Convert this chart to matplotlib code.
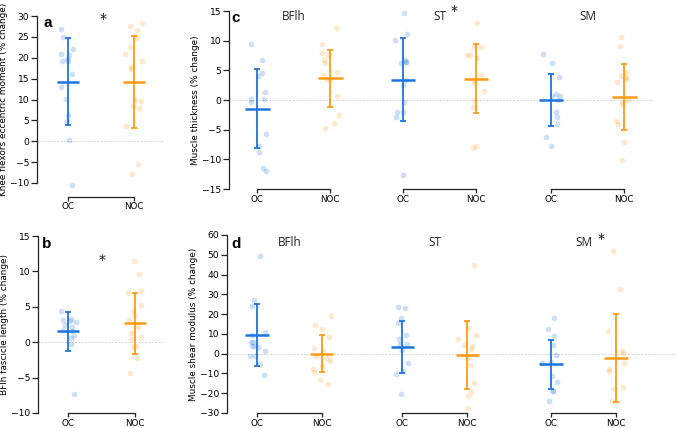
import numpy as np
import matplotlib
matplotlib.use('Agg')
import matplotlib.pyplot as plt

# ---------- data (% change) ---------- #
groups = ['OC', 'NOC']
muscles = ['BFlh', 'ST', 'SM']

# a : knee flexors eccentric moment
moment_oc = [26.9, 25.0, 22.2, 20.6, 20.8, 19.8, 19.3, 19.2, 16.2, 13.0, 10.1, 6.2, 4.9, 0.2, -10.4]
moment_noc = [28.4, 27.6, 26.6, 24.8, 22.5, 21.0, 19.2, 17.8, 17.4, 9.7, 10.0, 8.4, 8.0, 3.6, -5.5, -7.8]
moment_mean = [14.3, 14.2]
moment_sd = [10.35, 11.0]

# b : BFlh fascicle length
fascicle_oc = [4.4, 3.3, 2.9, 3.1, 3.0, 2.4, 2.2, 1.6, 1.7, 0.85, 0.6, -0.2, -7.3]
fascicle_noc = [11.5, 9.6, 7.2, 6.9, 5.3, 4.4, 3.8, 3.1, 2.2, 1.3, 0.7, 0.5, -0.6, -0.7, -2.3, -4.4]
fascicle_mean = [1.55, 2.65]
fascicle_sd = [2.75, 4.35]

# c : muscle thickness
thick_bflh_oc = [9.4, 6.8, 4.6, 4.0, 1.4, 0.2, 0.2, -0.3, -5.7, -7.7, -8.8, -11.9, -11.5]
thick_bflh_noc = [12.1, 9.5, 7.6, 7.9, 6.7, 6.3, 4.8, 4.2, 3.6, 3.4, 0.7, -2.5, -3.8, -4.7]
thick_st_oc = [14.6, 11.2, 10.1, 6.4, 6.2, 6.7, 6.4, 3.4, 2.6, -0.4, -2.0, -2.1, -2.9, -12.6]
thick_st_noc = [12.9, 9.0, 9.0, 7.6, 7.0, 7.6, 4.2, 3.4, 2.9, 1.6, 0.0, -1.2, -8.1, -7.7]
thick_sm_oc = [7.7, 6.3, 3.8, 0.7, 1.0, 0.6, 0.0, -2.1, -2.8, -4.0, -6.2, -7.7]
thick_sm_noc = [10.7, 9.1, 4.8, 4.0, 3.5, 3.8, 3.1, -0.3, -0.7, 0.0, -3.6, -4.0, -7.1, -10.1]
thick_mean = [[-1.45, 3.65], [3.4, 3.6], [0.0, 0.45]]
thick_sd = [[6.65, 4.75], [7.0, 5.8], [4.45, 5.55]]

# d : muscle shear modulus
shear_bflh_oc = [49.6, 27.3, 23.9, 10.8, 9.3, 5.7, 5.7, 4.0, 3.7, 3.2, 1.5, -1.0, -1.0, -5.1, -10.8]
shear_bflh_noc = [19.2, 14.5, 12.5, 8.4, 2.9, 1.2, -1.0, -2.2, -3.9, -6.1, -7.8, -9.4, -13.5, -15.3]
shear_st_oc = [23.6, 22.9, 17.9, 15.5, 9.4, 7.4, 5.1, 5.1, 2.0, -4.7, -8.9, -10.1, -20.2]
shear_st_noc = [45.0, 13.0, 9.6, 7.4, 4.6, 3.7, 2.4, -2.2, -5.6, -14.8, -19.6, -21.2, -27.5]
shear_sm_oc = [17.9, 12.6, 9.1, 4.6, -0.8, -4.4, -4.7, -11.1, -14.5, -19.1, -18.7, -23.8]
shear_sm_noc = [51.8, 32.9, 11.3, 1.2, 0.3, -4.7, -7.8, -8.6, -16.9, -17.7, -24.1]
shear_mean = [[9.3, 0.0], [3.2, -0.65], [-5.3, -2.25]]
shear_sd = [[15.7, 9.4], [13.2, 17.05], [12.4, 22.35]]

# ---------- style ---------- #
BLUE = '#1c74e0'
ORANGE = '#ff9a14'
SPINE = '#222222'
W, H = 676, 428

fig = plt.figure(figsize=(W / 100, H / 100), dpi=100)
rng = np.random.default_rng(3)


def axes_px(l, t, r, b):
    return fig.add_axes([l / W, 1 - b / H, (r - l) / W, (b - t) / H])


def style_axes(ax, ylim, yticks, show_y=True, xpos=(0, 1), offset=0):
    ax.set_ylim(*ylim)
    for s in ['top', 'right']:
        ax.spines[s].set_visible(False)
    ax.spines['bottom'].set_bounds(xpos[0], xpos[1])
    ax.spines['bottom'].set_position(('outward', offset))
    ax.set_xticks(list(xpos))
    ax.set_xticklabels(groups)
    ax.tick_params(axis='y', length=4, width=0.9, color=SPINE, labelsize=6.6, pad=1.5)
    ax.tick_params(axis='x', length=3, width=0.9, color=SPINE, labelsize=6.3, pad=1)
    ax.spines['bottom'].set_linewidth(0.9)
    ax.spines['bottom'].set_color(SPINE)
    if show_y:
        ax.set_yticks(yticks)
        ax.spines['left'].set_bounds(yticks[0], yticks[-1])
        ax.spines['left'].set_linewidth(0.9)
        ax.spines['left'].set_color(SPINE)
    else:
        ax.spines['left'].set_visible(False)
        ax.tick_params(axis='y', left=False, labelleft=False)
    ax.axhline(0, color='#c8c8c8', lw=0.6, ls=(0, (2, 2)), zorder=0)
    ax.patch.set_alpha(0)


def draw_pair(ax, oc, noc, means, sds, xpos=(0, 1)):
    for vals, x, m, sd, c in [(oc, xpos[0], means[0], sds[0], BLUE),
                              (noc, xpos[1], means[1], sds[1], ORANGE)]:
        xs = x + rng.uniform(-0.13, 0.13, len(vals))
        ax.scatter(xs, vals, s=17, color=c, alpha=0.22, lw=0, clip_on=False, zorder=2)
        ax.errorbar(x, m, yerr=sd, color=c, capsize=2.5, lw=1.3, capthick=1.3, zorder=3)
        ax.hlines(m, x - 0.17, x + 0.17, color=c, lw=1.8, zorder=3)


def panel_letter(x, y, s):
    fig.text(x / W, 1 - y / H, s, fontsize=11, fontweight='bold',
             family='Liberation Sans', va='baseline', ha='left')


def star(x, y, size=10):
    fig.text(x / W, 1 - y / H, '*', fontsize=size, ha='center', va='center', color='#111111')


# ---------- a ---------- #
ax_a = axes_px(37, 16, 163, 183)
ax_a.set_xlim(-0.47, 1.44)
style_axes(ax_a, (-10, 30), np.arange(-10, 31, 5), offset=10)
draw_pair(ax_a, moment_oc, moment_noc, moment_mean, moment_sd)
ax_a.set_ylabel('Knee flexors eccentric moment (% change)', fontsize=6.4, labelpad=1.5)
panel_letter(43, 27, 'a')
star(103, 19)

# ---------- b ---------- #
ax_b = axes_px(38, 236, 165, 413)
ax_b.set_xlim(-0.45, 1.45)
style_axes(ax_b, (-10, 15), np.arange(-10, 16, 5))
draw_pair(ax_b, fascicle_oc, fascicle_noc, fascicle_mean, fascicle_sd)
ax_b.set_ylabel('BFlh fascicle length (% change)', fontsize=6.4, labelpad=1.5)
panel_letter(42, 248, 'b')
star(102, 260)

# ---------- c ---------- #
c_bounds = [(229, 366, -0.384, 1.49), (366, 513, -0.507, 1.507), (513, 652, -0.52, 1.38)]
c_data = [(thick_bflh_oc, thick_bflh_noc), (thick_st_oc, thick_st_noc), (thick_sm_oc, thick_sm_noc)]
c_axes = []
for i, ((l, r, x0, x1), (oc, noc)) in enumerate(zip(c_bounds, c_data)):
    ax = axes_px(l, 11, r, 189)
    ax.set_xlim(x0, x1)
    style_axes(ax, (-15, 15), np.arange(-15, 16, 5), show_y=(i == 0))
    draw_pair(ax, oc, noc, thick_mean[i], thick_sd[i])
    c_axes.append(ax)
c_axes[0].set_ylabel('Muscle thickness (% change)', fontsize=6.4, labelpad=1.5)
panel_letter(231, 22, 'c')
for ax, name in zip(c_axes, muscles):
    ax.text(0.5, 14.1, name, fontsize=8.5, family='Open Sans', ha='center', va='center', color='#222222')
star(454, 11)

# ---------- d ---------- #
d_bounds = [(227, 364.5, -0.435, 1.56), (364.5, 511.5, -0.55, 1.58), (511.5, 676, -0.57, 1.81)]
d_data = [(shear_bflh_oc, shear_bflh_noc), (shear_st_oc, shear_st_noc), (shear_sm_oc, shear_sm_noc)]
d_axes = []
for i, ((l, r, x0, x1), (oc, noc)) in enumerate(zip(d_bounds, d_data)):
    ax = axes_px(l, 235, r, 413)
    ax.set_xlim(x0, x1)
    style_axes(ax, (-30, 60), np.arange(-30, 61, 10), show_y=(i == 0), xpos=(0, 0.94))
    draw_pair(ax, oc, noc, shear_mean[i], shear_sd[i], xpos=(0, 0.94))
    d_axes.append(ax)
d_axes[0].set_ylabel('Muscle shear modulus (% change)', fontsize=6.4, labelpad=1.5)
panel_letter(231, 248, 'd')
for ax, name in zip(d_axes, muscles):
    ax.text(0.47, 56, name, fontsize=8.5, family='Open Sans', ha='center', va='center', color='#222222')
star(601, 239)

fig.savefig('out.png', dpi=100)
